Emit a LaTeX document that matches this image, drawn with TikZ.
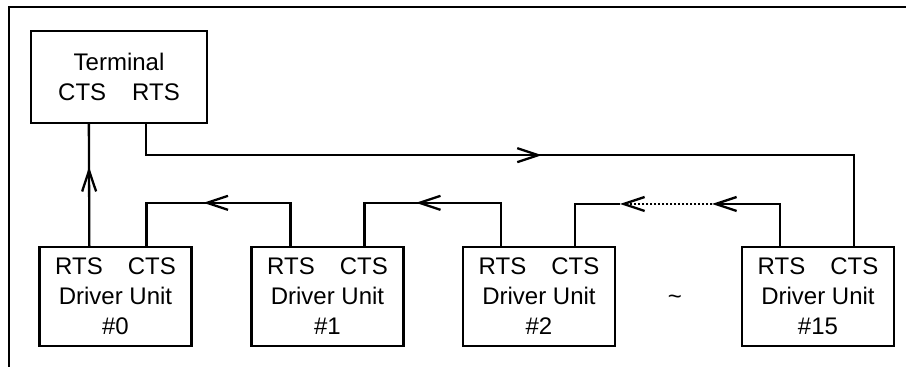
\documentclass[tikz,border=0pt]{standalone}
\usepackage{fontspec}
\setmainfont{Liberation Sans}
\usetikzlibrary{arrows.meta,calc,decorations.markings}

\begin{document}
\begin{tikzpicture}[
  x=0.5pt, y=-0.5pt,
  every node/.style={font=\fontsize{12}{15}\selectfont},
  unit/.style={
    draw, line width=1.15pt, align=center, inner sep=0pt,
    minimum width=76pt, minimum height=49.5pt,
  },
  termbox/.style={unit, minimum width=88pt, minimum height=46pt},
  wire/.style={line width=1.15pt},
  endarr/.style={-{Straight Barb[length=10.5pt,width=7pt]}},
  midarr/.style={postaction={decorate}, decoration={markings,
    mark=at position #1 with {\arrow{Straight Barb[length=10.5pt,width=7pt]}}}},
]
\useasboundingbox (0,0) rectangle (906,367);

% outer frame (cut off at right and bottom)
\draw[wire] (906,7) -- (9,7) -- (9,367);

\node[termbox] (term) at (119,77) {Terminal\\CTS\hspace{13pt}RTS};

\node[unit] (du0) at (115.5,296.5) {RTS\hspace{12.5pt}CTS\\Driver Unit\\\#0};
\node[unit] (du1) at (327.5,296.5) {RTS\hspace{12.5pt}CTS\\Driver Unit\\\#1};
\node[unit] (du2) at (539,296.5) {RTS\hspace{12.5pt}CTS\\Driver Unit\\\#2};
\node[unit] (du15) at (818,296.5) {RTS\hspace{12.5pt}CTS\\Driver Unit\\\#15};
\node (more) at (675,300) {\textasciitilde};

\coordinate (gapR) at (712,204);
\coordinate (gapL) at (620,204);

% terminal loop
\draw[wire, midarr=39.5pt] ($(du0.north west)+(51,0)$) -- ($(term.south west)+(59,0)$);
\draw[wire, midarr=213.5pt] ($(term.south west)+(116,0)$) -- ++(0,31) -| ($(du15.north west)+(113,0)$);

% daisy chain
\draw[wire, midarr=65pt] ($(du1.north west)+(40,0)$) -- ++(0,-43) -| ($(du0.north west)+(108,0)$);
\draw[wire, midarr=64pt] ($(du2.north west)+(39,0)$) -- ++(0,-43) -| ($(du1.north west)+(114,0)$);
\draw[wire, endarr] ($(du15.north west)+(39,0)$) |- (gapR);
\draw[wire, dash pattern=on 1pt off 1pt, endarr] (gapR) -- (gapL);
\draw[wire] (gapL) -| ($(du2.north west)+(113,0)$);

\end{tikzpicture}
\end{document}
